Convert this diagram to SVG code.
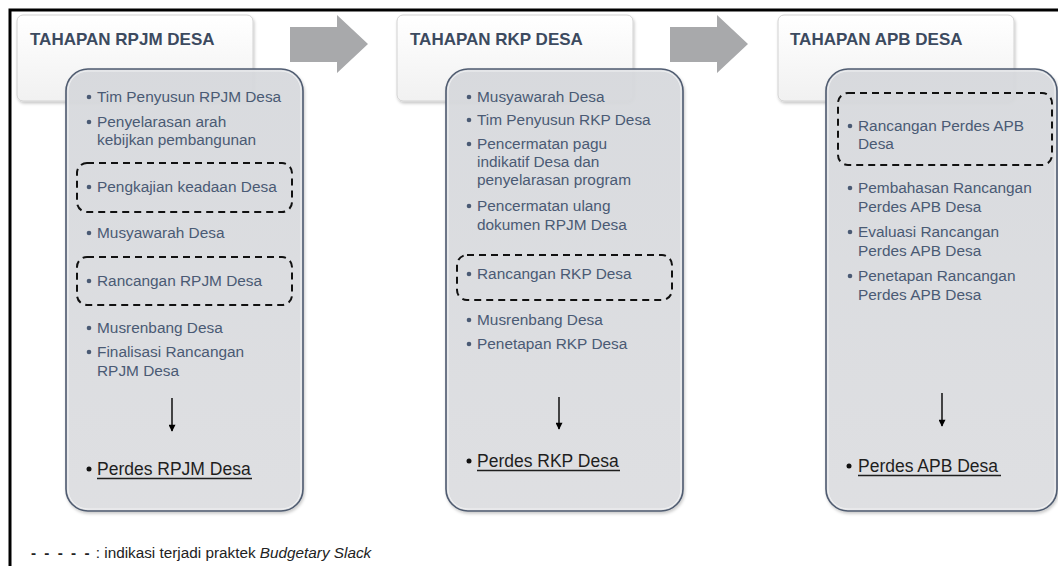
<svg xmlns="http://www.w3.org/2000/svg" width="1058" height="566" viewBox="0 0 1058 566">
  <defs>
    <linearGradient id="hdrFill" x1="0" y1="0" x2="0" y2="1">
      <stop offset="0" stop-color="#ffffff"/>
      <stop offset="1" stop-color="#f1f1f1"/>
    </linearGradient>
    <linearGradient id="listFill" x1="0" y1="0" x2="0" y2="1">
      <stop offset="0" stop-color="#d8dade"/>
      <stop offset="1" stop-color="#dedfe2"/>
    </linearGradient>
    <filter id="soft" x="-10%" y="-10%" width="130%" height="130%">
      <feDropShadow dx="1" dy="2" stdDeviation="1.6" flood-color="#000" flood-opacity="0.22"/>
    </filter>
    <marker id="down" viewBox="0 0 10 10" refX="9" refY="5" markerWidth="8" markerHeight="7" markerUnits="userSpaceOnUse" orient="auto">
      <path d="M0,0 L10,5 L0,10 Z" fill="#000"/>
    </marker>
    <style>
      .frame { stroke: #000; stroke-width: 3; fill: none; }
      .hdr { fill: url(#hdrFill); stroke: #d2d2d2; stroke-width: 1; filter: url(#soft); }
      .title { font-family: "Liberation Sans", Arial, sans-serif; font-weight: bold; font-size: 17px; fill: #3c4a5f; }
      .list { fill: url(#listFill); fill-opacity: 0.93; stroke: #4f5b70; stroke-width: 1.6; filter: url(#soft); }
      .inner { fill: none; stroke: #ffffff; stroke-opacity: 0.6; stroke-width: 1; }
      .item { font-family: "Liberation Sans", Arial, sans-serif; font-size: 15.4px; fill: #4a5a74; }
      .dot { fill: #4a5a74; }
      .slack { fill: none; stroke: #111; stroke-width: 2; stroke-dasharray: 7 5; }
      .result { font-family: "Liberation Sans", Arial, sans-serif; font-size: 17.5px; fill: #1e1e1e; }
      .rdot { fill: #111; }
      .uline { stroke: #1e1e1e; stroke-width: 1.4; }
      .block { fill: #a8a9ab; }
      .step { stroke: #000; stroke-width: 1.4; marker-end: url(#down); }
      .legend { font-family: "Liberation Sans", Arial, sans-serif; font-size: 15.3px; fill: #222; }
    </style>
  </defs>

  <rect width="1058" height="566" fill="#ffffff"/>
  <!-- page frame: top and left rules -->
  <path class="frame" d="M10,566 V10 H1058"/>

  <!-- stage 1: RPJM -->
  <g id="rpjm-header">
    <rect class="hdr" x="17" y="15" width="236" height="86" rx="6"/>
    <text class="title" x="30" y="45">TAHAPAN RPJM DESA</text>
  </g>
  <g id="rpjm-steps">
    <rect class="list" x="66" y="69" width="237" height="442" rx="22"/>
    <rect class="inner" x="68" y="71" width="233" height="438" rx="20"/>
    <rect class="slack" x="77" y="163" width="215" height="49" rx="10"/>
    <rect class="slack" x="77" y="257" width="215" height="48" rx="10"/>
    <g class="item">
      <text x="97" y="102">Tim Penyusun RPJM Desa</text>
      <text x="97" y="127">Penyelarasan arah</text>
      <text x="97" y="145">kebijkan pembangunan</text>
      <text x="97" y="192">Pengkajian keadaan Desa</text>
      <text x="97" y="238">Musyawarah Desa</text>
      <text x="97" y="286">Rancangan RPJM Desa</text>
      <text x="97" y="333">Musrenbang Desa</text>
      <text x="97" y="357">Finalisasi Rancangan</text>
      <text x="97" y="376">RPJM Desa</text>
    </g>
    <g class="dot">
      <circle cx="89" cy="97" r="2.3"/>
      <circle cx="89" cy="122" r="2.3"/>
      <circle cx="89" cy="187" r="2.3"/>
      <circle cx="89" cy="233" r="2.3"/>
      <circle cx="89" cy="281" r="2.3"/>
      <circle cx="89" cy="328" r="2.3"/>
      <circle cx="89" cy="352" r="2.3"/>
    </g>
    <circle class="rdot" cx="89" cy="469" r="2.5"/>
    <text class="result" x="97" y="475">Perdes RPJM Desa</text>
    <line class="uline" x1="97" y1="478.5" x2="252" y2="478.5"/>
  </g>

  <!-- stage 2: RKP -->
  <g id="rkp-header">
    <rect class="hdr" x="397" y="15" width="236" height="86" rx="6"/>
    <text class="title" x="410" y="45">TAHAPAN RKP DESA</text>
  </g>
  <g id="rkp-steps">
    <rect class="list" x="446" y="69" width="237" height="442" rx="22"/>
    <rect class="inner" x="448" y="71" width="233" height="438" rx="20"/>
    <rect class="slack" x="457" y="255" width="215" height="45" rx="10"/>
    <g class="item">
      <text x="477" y="102">Musyawarah Desa</text>
      <text x="477" y="125">Tim Penyusun RKP Desa</text>
      <text x="477" y="149">Pencermatan pagu</text>
      <text x="477" y="167">indikatif Desa dan</text>
      <text x="477" y="185">penyelarasan program</text>
      <text x="477" y="211">Pencermatan ulang</text>
      <text x="477" y="230">dokumen RPJM Desa</text>
      <text x="477" y="279">Rancangan RKP Desa</text>
      <text x="477" y="325">Musrenbang Desa</text>
      <text x="477" y="349">Penetapan RKP Desa</text>
    </g>
    <g class="dot">
      <circle cx="469" cy="97" r="2.3"/>
      <circle cx="469" cy="120" r="2.3"/>
      <circle cx="469" cy="144" r="2.3"/>
      <circle cx="469" cy="206" r="2.3"/>
      <circle cx="469" cy="274" r="2.3"/>
      <circle cx="469" cy="320" r="2.3"/>
      <circle cx="469" cy="344" r="2.3"/>
    </g>
    <circle class="rdot" cx="469" cy="461" r="2.5"/>
    <text class="result" x="477" y="467">Perdes RKP Desa</text>
    <line class="uline" x1="477" y1="470.5" x2="620" y2="470.5"/>
  </g>

  <!-- stage 3: APB -->
  <g id="apb-header">
    <rect class="hdr" x="778" y="15" width="236" height="86" rx="6"/>
    <text class="title" x="790" y="45">TAHAPAN APB DESA</text>
  </g>
  <g id="apb-steps">
    <rect class="list" x="826" y="69" width="231" height="442" rx="22"/>
    <rect class="inner" x="828" y="71" width="227" height="438" rx="20"/>
    <rect class="slack" x="838" y="93" width="214" height="72" rx="10"/>
    <g class="item">
      <text x="858" y="131">Rancangan Perdes APB</text>
      <text x="858" y="149">Desa</text>
      <text x="858" y="193">Pembahasan Rancangan</text>
      <text x="858" y="212">Perdes APB Desa</text>
      <text x="858" y="237">Evaluasi Rancangan</text>
      <text x="858" y="256">Perdes APB Desa</text>
      <text x="858" y="281">Penetapan Rancangan</text>
      <text x="858" y="300">Perdes APB Desa</text>
    </g>
    <g class="dot">
      <circle cx="850" cy="126" r="2.3"/>
      <circle cx="850" cy="188" r="2.3"/>
      <circle cx="850" cy="232" r="2.3"/>
      <circle cx="850" cy="276" r="2.3"/>
    </g>
    <circle class="rdot" cx="849" cy="466" r="2.5"/>
    <text class="result" x="858" y="472">Perdes APB Desa</text>
    <line class="uline" x1="858" y1="475.5" x2="1001" y2="475.5"/>
  </g>

  <!-- connectors: stage-to-stage block arrows and step-to-result arrows -->
  <g id="connectors">
    <path class="block" d="M290,27 H337 V15 L368,44 L337,73 V62 H290 Z"/>
    <path class="block" d="M670,27 H717 V15 L748,44 L717,73 V62 H670 Z"/>
    <line class="step" x1="172" y1="398" x2="172" y2="431"/>
    <line class="step" x1="559" y1="397" x2="559" y2="429"/>
    <line class="step" x1="942" y1="393" x2="942" y2="426"/>
  </g>

  <!-- legend -->
  <g id="legend">
    <text class="legend" x="31" y="558"><tspan font-weight="bold" letter-spacing="2">- - - - -</tspan> : indikasi terjadi praktek <tspan font-style="italic">Budgetary Slack</tspan></text>
  </g>
</svg>
